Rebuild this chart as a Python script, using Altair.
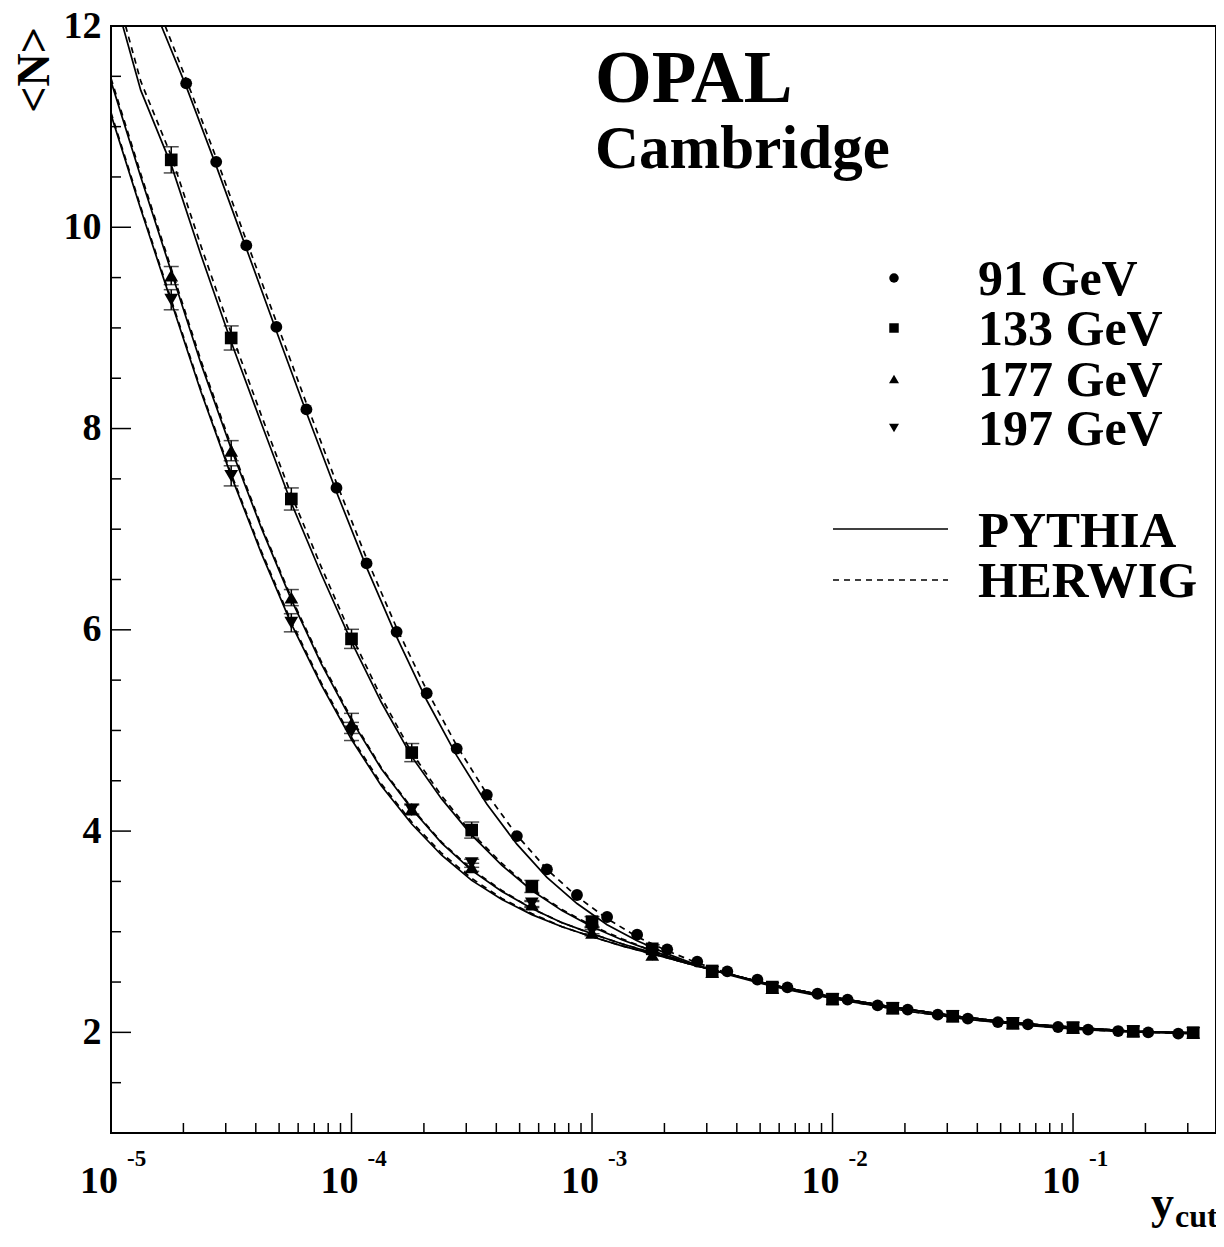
import altair as alt
import pandas as pd

# ---------------- data ----------------
# 91 GeV (circles)
x91 = [2.054e-5, 2.738e-5, 3.652e-5, 4.870e-5, 6.494e-5, 8.660e-5,
       1.155e-4, 1.540e-4, 2.054e-4, 2.738e-4, 3.652e-4, 4.870e-4, 6.494e-4, 8.660e-4,
       1.155e-3, 1.540e-3, 2.054e-3, 2.738e-3, 3.652e-3, 4.870e-3, 6.494e-3, 8.660e-3,
       1.155e-2, 1.540e-2, 2.054e-2, 2.738e-2, 3.652e-2, 4.870e-2, 6.494e-2, 8.660e-2,
       0.1155, 0.1540, 0.2054, 0.2738]
n91 = [11.43, 10.65, 9.82, 9.01, 8.19, 7.41, 6.66, 5.98, 5.37, 4.82, 4.36, 3.95,
       3.62, 3.365, 3.146, 2.971, 2.825, 2.703, 2.606, 2.524, 2.447, 2.384, 2.325,
       2.268, 2.226, 2.176, 2.136, 2.102, 2.080, 2.053, 2.027, 2.013, 2.000, 1.987]

# 133 / 177 / 197 GeV (squares, triangles)
xhi = [1.78e-5, 3.16e-5, 5.62e-5, 1.0e-4, 1.78e-4, 3.16e-4, 5.62e-4, 1.0e-3,
       1.78e-3, 3.16e-3, 5.62e-3, 1.0e-2, 1.78e-2, 3.16e-2, 5.62e-2, 0.1, 0.178, 0.316]
n133 = [10.67, 8.90, 7.30, 5.91, 4.78, 4.01, 3.45, 3.10, 2.83, 2.61, 2.45, 2.33,
        2.24, 2.16, 2.09, 2.047, 2.01, 1.997]
e133 = [0.13, 0.12, 0.11, 0.095, 0.09, 0.08, 0.06, 0.05, 0.04, 0, 0, 0, 0, 0, 0, 0, 0, 0]
n177 = [9.52, 7.78, 6.32, 5.07, 4.22, 3.64, 3.27, 2.99, 2.77, 2.60, 2.44, 2.33,
        2.24, 2.16, 2.09, 2.045, 2.01, 1.995]
e177 = [0.09, 0.10, 0.08, 0.10, 0.05, 0.04, 0.03, 0.03, 0, 0, 0, 0, 0, 0, 0, 0, 0, 0]
n197 = [9.28, 7.53, 6.07, 4.99, 4.21, 3.68, 3.28, 3.01, 2.77, 2.60, 2.44, 2.33,
        2.24, 2.16, 2.09, 2.045, 2.01, 1.995]
e197 = [0.10, 0.10, 0.09, 0.09, 0.05, 0.04, 0.03, 0.03, 0, 0, 0, 0, 0, 0, 0, 0, 0, 0]

# Monte Carlo curves
cx91p = [1.62e-5] + x91 + [0.33]
cy91p = [12.0, 11.40, 10.61, 9.79, 8.97, 8.16, 7.37, 6.62, 5.93, 5.30, 4.75, 4.27,
         3.87, 3.54, 3.28, 3.07, 2.91, 2.78, 2.67, 2.575, 2.495, 2.425, 2.365,
         2.31, 2.26, 2.21, 2.17, 2.13, 2.10, 2.07, 2.045, 2.025, 2.01, 2.0, 1.99, 1.985]
cx91h = [1.68e-5] + x91 + [0.33]
cy91h = [12.0, 11.47, 10.69, 9.87, 9.06, 8.25, 7.46, 6.71, 6.02, 5.40, 4.85, 4.37,
         3.96, 3.62, 3.35, 3.13, 2.95, 2.81, 2.69, 2.59, 2.505, 2.43, 2.37,
         2.31, 2.26, 2.21, 2.17, 2.13, 2.10, 2.07, 2.045, 2.025, 2.01, 2.0, 1.99, 1.985]

cxg = [1.33e-5, 1.78e-5, 2.37e-5, 3.16e-5, 4.22e-5, 5.62e-5, 7.50e-5, 1.0e-4,
       1.33e-4, 1.78e-4, 2.37e-4, 3.16e-4, 4.22e-4, 5.62e-4, 7.50e-4, 1.0e-3,
       1.33e-3, 1.78e-3, 2.37e-3, 3.16e-3, 5.62e-3, 1.0e-2, 1.78e-2, 3.16e-2,
       5.62e-2, 0.1, 0.178, 0.316]
tail = [2.47, 2.35, 2.25, 2.165, 2.095, 2.05, 2.01, 1.995]
cx133p = [1.12e-5] + cxg
cy133p = [12.0, 11.36, 10.62, 9.72, 8.86, 8.05, 7.26, 6.55, 5.88, 5.28, 4.74, 4.32,
          3.96, 3.66, 3.41, 3.21, 3.05, 2.92, 2.81, 2.71, 2.62] + tail
cx133h = [1.15e-5] + cxg
cy133h = [12.0, 11.45, 10.71, 9.81, 8.95, 8.13, 7.34, 6.62, 5.94, 5.33, 4.78, 4.35,
          3.98, 3.68, 3.42, 3.22, 3.06, 2.93, 2.81, 2.71, 2.62] + tail
cx177 = [1.0e-5] + cxg
cy177p = [11.45, 10.50, 9.56, 8.64, 7.80, 7.01, 6.30, 5.66, 5.10, 4.62, 4.22, 3.88,
          3.61, 3.40, 3.23, 3.09, 2.98, 2.88, 2.79, 2.70, 2.62] + tail
cy177h = [11.48, 10.53, 9.59, 8.67, 7.83, 7.03, 6.32, 5.68, 5.12, 4.63, 4.23, 3.89,
          3.62, 3.41, 3.23, 3.09, 2.98, 2.88, 2.79, 2.70, 2.62] + tail
cy197p = [11.12, 10.18, 9.26, 8.36, 7.53, 6.76, 6.06, 5.45, 4.91, 4.45, 4.07, 3.76,
          3.51, 3.32, 3.17, 3.05, 2.95, 2.86, 2.78, 2.70, 2.62] + tail
cy197h = [11.14, 10.20, 9.28, 8.38, 7.55, 6.78, 6.08, 5.47, 4.93, 4.47, 4.09, 3.78,
          3.53, 3.33, 3.18, 3.05, 2.95, 2.86, 2.78, 2.70, 2.62] + tail

energies = ["91 GeV", "133 GeV", "177 GeV", "197 GeV"]
models = ["PYTHIA", "HERWIG"]
shapes = ["circle", "square", "triangle-up", "triangle-down"]

x_major = [1e-5, 1e-4, 1e-3, 1e-2, 1e-1]
x_exp = ["-5", "-4", "-3", "-2", "-1"]
x_minor = [m * d for d in [1e-5, 1e-4, 1e-3, 1e-2] for m in range(2, 10)] + [0.2, 0.3]
y_major = [2, 4, 6, 8, 10, 12]
y_minor = [1.5, 2.5, 3, 3.5, 4.5, 5, 5.5, 6.5, 7, 7.5, 8.5, 9, 9.5, 10.5, 11, 11.5]

# ---------------- tables ----------------
rows = []
for xs, ys, es, en in [(x91, n91, [0] * len(x91), energies[0]), (xhi, n133, e133, energies[1]),
                       (xhi, n177, e177, energies[2]), (xhi, n197, e197, energies[3])]:
    for xv, yv, ev in zip(xs, ys, es):
        rows.append({"x": xv, "y": yv, "lo": yv - ev, "hi": yv + ev, "err": ev, "energy": en})
pts = pd.DataFrame(rows)

crows = []
for name, model, xs, ys in [("91p", "PYTHIA", cx91p, cy91p), ("91h", "HERWIG", cx91h, cy91h),
                            ("133p", "PYTHIA", cx133p, cy133p), ("133h", "HERWIG", cx133h, cy133h),
                            ("177p", "PYTHIA", cx177, cy177p), ("177h", "HERWIG", cx177, cy177h),
                            ("197p", "PYTHIA", cx177, cy197p), ("197h", "HERWIG", cx177, cy197h)]:
    for xv, yv in zip(xs, ys):
        crows.append({"x": xv, "y": yv, "curve": name, "model": model})
curves = pd.DataFrame(crows)

W, H = 1105, 1107
FONT = "Liberation Serif"
xs_ = alt.Scale(type="log", domain=[1e-5, 0.393], nice=False)
ys_ = alt.Scale(domain=[1, 12], nice=False, zero=False)
yaxis = alt.Axis(values=y_major, ticks=False, domain=False, grid=False, title=None,
                 labelFont=FONT, labelFontWeight="bold", labelFontSize=38,
                 labelColor="black", labelPadding=10, labelFlush=False)


def X(f="x"):
    return alt.X(f"{f}:Q", scale=xs_, axis=None)


def Y(f="y"):
    return alt.Y(f"{f}:Q", scale=ys_, axis=yaxis)


solid = alt.Chart(curves[curves.model == "PYTHIA"]).mark_line(
    color="black", strokeWidth=1.7, clip=True).encode(x=X(), y=Y(), detail="curve:N", order="x:Q")
dashed = alt.Chart(curves[curves.model == "HERWIG"]).mark_line(
    color="black", strokeWidth=1.7, strokeDash=[6, 5], clip=True).encode(
    x=X(), y=Y(), detail="curve:N", order="x:Q")

errd = pts[pts.err > 0]
ebar = alt.Chart(errd).mark_rule(color="black", strokeWidth=1.5).encode(
    x=X(), y=Y("lo"), y2="hi:Q")
cap_lo = alt.Chart(errd).mark_tick(color="black", orient="horizontal", size=15, thickness=1.5).encode(
    x=X(), y=Y("lo"))
cap_hi = alt.Chart(errd).mark_tick(color="black", orient="horizontal", size=15, thickness=1.5).encode(
    x=X(), y=Y("hi"))

order_draw = [energies[3], energies[2], energies[1], energies[0]]
sizes = {"circle": 140, "square": 160, "triangle-up": 190, "triangle-down": 190}
pt_layers = []
for en in order_draw:
    sh = shapes[energies.index(en)]
    pt_layers.append(alt.Chart(pts[pts.energy == en]).mark_point(
        shape=sh, filled=True, color="black", opacity=1, size=sizes[sh], strokeWidth=0).encode(
        x=X(), y=Y()))

# ticks (inward, ROOT style)
xmaj = alt.Chart(pd.DataFrame({"t": x_major})).mark_rule(color="black", strokeWidth=1.5).encode(
    x=X("t"), y=alt.value(H), y2=alt.value(H - 20))
xmin = alt.Chart(pd.DataFrame({"t": x_minor})).mark_rule(color="black", strokeWidth=1.5).encode(
    x=X("t"), y=alt.value(H), y2=alt.value(H - 10))
ymaj = alt.Chart(pd.DataFrame({"t": y_major})).mark_rule(color="black", strokeWidth=1.5).encode(
    y=Y("t"), x=alt.value(0), x2=alt.value(20))
ymin = alt.Chart(pd.DataFrame({"t": y_minor})).mark_rule(color="black", strokeWidth=1.5).encode(
    y=Y("t"), x=alt.value(0), x2=alt.value(10))

lab = pd.DataFrame({"t": x_major, "base": ["10"] * len(x_major), "exp": x_exp})
xlab = alt.Chart(lab).mark_text(align="right", baseline="alphabetic", dx=7, font=FONT,
                                fontWeight="bold", fontSize=38, color="black").encode(
    x=X("t"), y=alt.value(H + 60), text="base:N")
xexp = alt.Chart(lab).mark_text(align="left", baseline="alphabetic", dx=16, font=FONT,
                                fontWeight="bold", fontSize=23, color="black").encode(
    x=X("t"), y=alt.value(H + 33), text="exp:N")


def txt(s, x, y, size, align="left", angle=0, baseline="alphabetic"):
    return alt.Chart(pd.DataFrame({"s": [s]})).mark_text(
        align=align, baseline=baseline, angle=angle, font=FONT, fontWeight="bold",
        fontSize=size, color="black").encode(x=alt.value(x), y=alt.value(y), text="s:N")


texts = [
    txt("OPAL", 484, 76, 73),
    txt("Cambridge", 484, 142, 61),
    txt("<N>", -76, 1, 46, align="right", angle=270, baseline="middle"),
    txt("y", 1040, 1192, 46),
    txt("cut", 1064, 1201, 32),
]

leg_y = [252, 302, 353, 402]
leg_t = [269, 319, 369.5, 419]
leg_sz = [90, 90, 100, 100]
legend = []
for i, en in enumerate(energies):
    legend.append(alt.Chart(pd.DataFrame({"k": [en]})).mark_point(
        shape=shapes[i], filled=True, color="black", opacity=1, size=leg_sz[i],
        strokeWidth=0).encode(x=alt.value(783), y=alt.value(leg_y[i])))
    legend.append(txt(en, 867, leg_t[i], 50))
legend.append(alt.Chart(pd.DataFrame({"k": [models[0]]})).mark_rule(color="black", strokeWidth=1.7).encode(
    x=alt.value(722), x2=alt.value(837), y=alt.value(503)))
legend.append(alt.Chart(pd.DataFrame({"k": [models[1]]})).mark_rule(
    color="black", strokeWidth=1.7, strokeDash=[6, 5]).encode(
    x=alt.value(722), x2=alt.value(837), y=alt.value(554)))
legend.append(txt(models[0], 867, 520.7, 51))
legend.append(txt(models[1], 867, 570.7, 51))

chart = alt.layer(
    solid, dashed, ebar, cap_lo, cap_hi, *pt_layers, xmaj, xmin, ymaj, ymin, xlab, xexp,
    *texts, *legend
).properties(
    width=W, height=H,
    padding={"left": 103, "top": 18, "right": 0, "bottom": 100},
    autosize=alt.AutoSizeParams(type="none"),
    background="white",
).configure_view(stroke="black", strokeWidth=2)

chart.save("out.html", embed_options={"renderer": "svg", "actions": False})
